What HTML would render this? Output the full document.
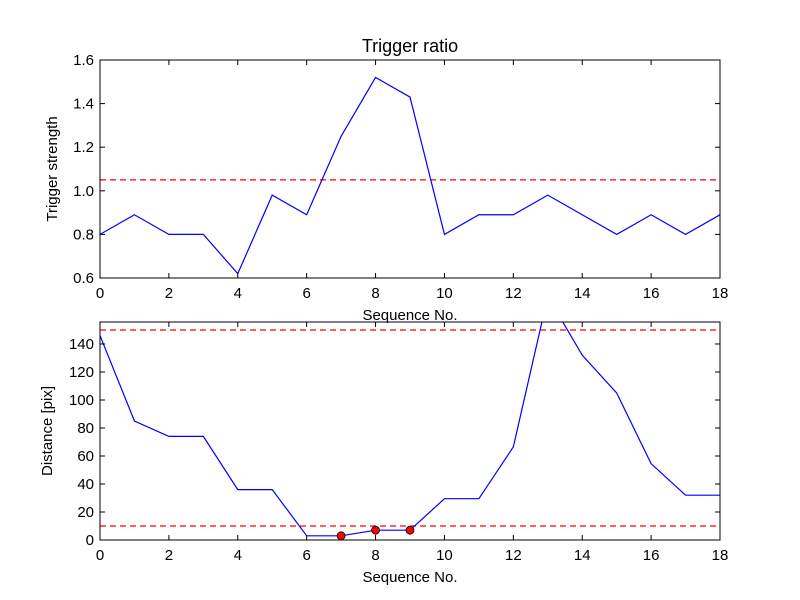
<!DOCTYPE html>
<html><head><meta charset="utf-8"><style>
body{margin:0;background:#fff}
svg{display:block;font-family:"Liberation Sans","DejaVu Sans",sans-serif}
</style></head><body>
<svg id="c" width="800" height="600"></svg>
<script>
const xValues=[0,1,2,3,4,5,6,7,8,9,10,11,12,13,14,15,16,17,18];
const strength=[0.8,0.89,0.8,0.8,0.62,0.98,0.89,1.25,1.52,1.43,0.8,0.89,0.89,0.98,0.89,0.8,0.89,0.8,0.89];
const distance=[146,85,74,74,36,36,3,3,7,7,29.5,29.5,66.5,174,132,105,54.5,32,32];
const strengthThreshold=[1.05];
const distThresholds=[150,10];
const markedX=[7,8,9];
const xTicks=[0,2,4,6,8,10,12,14,16,18];
const topYTicks=[0.6,0.8,1.0,1.2,1.4,1.6];
const botYTicks=[0,20,40,60,80,100,120,140];
const NS="http://www.w3.org/2000/svg";
const svg=document.getElementById('c');
function el(t,a,p){const e=document.createElementNS(NS,t);for(const k in a)e.setAttribute(k,a[k]);(p||svg).appendChild(e);return e;}
function panel(id,L,T,R,B,y0,y1,yt,fmt,series,hl,ylabel,title){
  const sx=v=>L+(v-0)/(18-0)*(R-L);
  const sy=v=>B-(v-y0)/(y1-y0)*(B-T);
  const g=el('g',{});
  
  
  const cp=el('clipPath',{id:id+'clip'},g);el('rect',{x:L,y:T,width:R-L,height:B-T},cp);
  const inner=el('g',{'clip-path':'url(#'+id+'clip)'},g);
  hl.forEach(h=>{const l=el('line',{x1:L,x2:R,y1:sy(h),y2:sy(h),stroke:'#f00','stroke-width':1.3,'stroke-dasharray':'6,4'},inner);
    
    });
  const p=el('polyline',{points:series.map((v,i)=>sx(xValues[i])+','+sy(v)).join(' '),fill:'none',stroke:'#00f','stroke-width':1.2},inner);
  
  
  el('rect',{x:L,y:T,width:R-L,height:B-T,fill:'none',stroke:'#000','stroke-width':1},g);
  xTicks.forEach(t=>{const x=sx(t);el('line',{x1:x,x2:x,y1:B,y2:B-5,stroke:'#000'},g);el('line',{x1:x,x2:x,y1:T,y2:T+5,stroke:'#000'},g);
    const tx=el('text',{x:x,y:B+20,'text-anchor':'middle','font-size':15},g);tx.textContent=t;
    
    });
  yt.forEach(t=>{const y=sy(t);el('line',{x1:L,x2:L+5,y1:y,y2:y,stroke:'#000'},g);el('line',{x1:R,x2:R-5,y1:y,y2:y,stroke:'#000'},g);
    const tx=el('text',{x:L-6,y:y+5,'text-anchor':'end','font-size':15},g);tx.textContent=fmt(t);
    
    });
  const xl=el('text',{x:(L+R)/2,y:B+42,'text-anchor':'middle','font-size':15},g);xl.textContent='Sequence No.';
  
  
  const yl=el('text',{x:0,y:0,'text-anchor':'middle','font-size':15,transform:'translate('+(id==='top'?57:52)+','+((T+B)/2)+') rotate(-90)'},g);yl.textContent=ylabel;
  
  
  if(title){const tt=el('text',{x:(L+R)/2,y:T-8,'text-anchor':'middle','font-size':18},g);tt.textContent=title;
    
    }
  return {sx,sy,g};
}
panel('top',100,60,720,278,0.6,1.6,topYTicks,v=>v.toFixed(1),strength,strengthThreshold,'Trigger strength','Trigger ratio');
const b=panel('bottom',100,322,720,540,0,155.7,botYTicks,v=>String(v),distance,distThresholds,'Distance [pix]',null);
markedX.forEach(xv=>{const c=el('circle',{cx:b.sx(xv),cy:b.sy(distance[xValues.indexOf(xv)]),r:4,fill:'#f00',stroke:'#000','stroke-width':0.8},b.g);
  
  });
</script>
</body></html>
